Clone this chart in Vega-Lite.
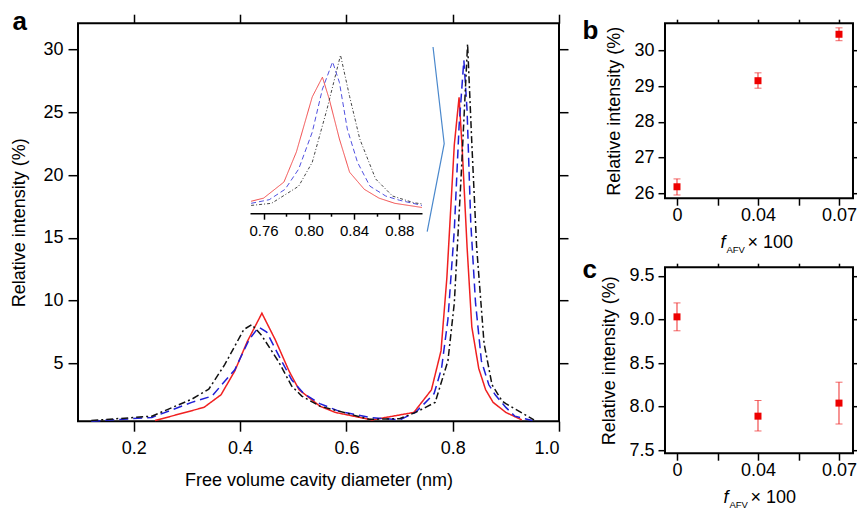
{
  "$schema": "https://vega.github.io/schema/vega-lite/v6.json",
  "padding": {"left": 9, "top": 7.2, "right": 0, "bottom": 0},
  "datasets": {
    "curves": [
      {"s":"r","d":0.24,"v":0.45},{"s":"r","d":0.332,"v":1.5},{"s":"r","d":0.364,"v":2.5},{"s":"r","d":0.39,"v":4.4},{"s":"r","d":0.413,"v":6.7},{"s":"r","d":0.441,"v":9.0},{"s":"r","d":0.466,"v":6.9},{"s":"r","d":0.492,"v":4.4},{"s":"r","d":0.511,"v":2.9},{"s":"r","d":0.55,"v":1.6},{"s":"r","d":0.579,"v":1.1},{"s":"r","d":0.648,"v":0.5},{"s":"r","d":0.727,"v":1.1},{"s":"r","d":0.749,"v":2.3},{"s":"r","d":0.76,"v":2.9},{"s":"r","d":0.778,"v":6.0},{"s":"r","d":0.789,"v":11.8},{"s":"r","d":0.803,"v":22.4},{"s":"r","d":0.812,"v":26.2},{"s":"r","d":0.818,"v":22.0},{"s":"r","d":0.827,"v":14.3},{"s":"r","d":0.836,"v":7.9},{"s":"r","d":0.849,"v":4.6},{"s":"r","d":0.862,"v":2.9},{"s":"r","d":0.876,"v":1.9},{"s":"r","d":0.9,"v":1.1},{"s":"r","d":0.93,"v":0.5},
      {"s":"b","d":0.12,"v":0.4},{"s":"b","d":0.234,"v":0.7},{"s":"b","d":0.309,"v":1.9},{"s":"b","d":0.347,"v":2.4},{"s":"b","d":0.39,"v":4.5},{"s":"b","d":0.417,"v":6.9},{"s":"b","d":0.435,"v":7.9},{"s":"b","d":0.45,"v":7.5},{"s":"b","d":0.473,"v":5.6},{"s":"b","d":0.497,"v":3.7},{"s":"b","d":0.52,"v":2.6},{"s":"b","d":0.55,"v":1.8},{"s":"b","d":0.586,"v":1.2},{"s":"b","d":0.643,"v":0.7},{"s":"b","d":0.7,"v":0.5},{"s":"b","d":0.73,"v":1.1},{"s":"b","d":0.749,"v":1.9},{"s":"b","d":0.765,"v":2.6},{"s":"b","d":0.779,"v":4.6},{"s":"b","d":0.791,"v":8.5},{"s":"b","d":0.803,"v":15.6},{"s":"b","d":0.812,"v":23.9},{"s":"b","d":0.821,"v":29.15},{"s":"b","d":0.827,"v":25.2},{"s":"b","d":0.834,"v":16.2},{"s":"b","d":0.843,"v":9.8},{"s":"b","d":0.854,"v":5.2},{"s":"b","d":0.868,"v":3.3},{"s":"b","d":0.88,"v":2.5},{"s":"b","d":0.9,"v":1.5},{"s":"b","d":0.917,"v":0.8},{"s":"b","d":0.95,"v":0.45},
      {"s":"k","d":0.12,"v":0.45},{"s":"k","d":0.234,"v":0.8},{"s":"k","d":0.309,"v":2.15},{"s":"k","d":0.341,"v":2.95},{"s":"k","d":0.371,"v":4.9},{"s":"k","d":0.407,"v":7.7},{"s":"k","d":0.422,"v":8.1},{"s":"k","d":0.441,"v":7.2},{"s":"k","d":0.473,"v":5.1},{"s":"k","d":0.497,"v":3.2},{"s":"k","d":0.516,"v":2.4},{"s":"k","d":0.55,"v":1.6},{"s":"k","d":0.586,"v":1.2},{"s":"k","d":0.643,"v":0.55},{"s":"k","d":0.7,"v":0.6},{"s":"k","d":0.73,"v":1.1},{"s":"k","d":0.749,"v":1.5},{"s":"k","d":0.767,"v":1.9},{"s":"k","d":0.791,"v":5.2},{"s":"k","d":0.803,"v":9.8},{"s":"k","d":0.816,"v":20.0},{"s":"k","d":0.828,"v":30.45},{"s":"k","d":0.836,"v":22.5},{"s":"k","d":0.845,"v":14.3},{"s":"k","d":0.859,"v":6.6},{"s":"k","d":0.874,"v":3.3},{"s":"k","d":0.893,"v":2.0},{"s":"k","d":0.9,"v":1.8},{"s":"k","d":0.953,"v":0.5}
    ],
    "pb": [
      {"f":"0","m":26.18,"lo":25.95,"hi":26.40},
      {"f":"0.04","m":29.15,"lo":28.94,"hi":29.37},
      {"f":"0.07","m":30.45,"lo":30.27,"hi":30.63}
    ],
    "pc": [
      {"f":"0","m":9.03,"lo":8.87,"hi":9.19},
      {"f":"0.04","m":7.89,"lo":7.72,"hi":8.07},
      {"f":"0.07","m":8.04,"lo":7.80,"hi":8.28}
    ],
    "bracket": [
      {"bx":0.763,"by":30.2,"k":1},{"bx":0.784,"by":22.5,"k":2},{"bx":0.752,"by":15.5,"k":3}
    ]
  },
  "spacing": 11,
  "hconcat": [
    {
      "width": 481, "height": 398,
      "layer": [
        {
          "data": {"name": "curves"},
          "mark": {"type": "line", "strokeWidth": 1.5},
          "encoding": {
            "x": {"field": "d", "type": "quantitative", "scale": {"domain": [0.095, 1.0], "nice": false, "zero": false},
                  "axis": {"orient": "bottom", "values": [0.2, 0.4, 0.6, 0.8, 1.0], "format": ".1f", "tickSize": 10, "labelPadding": 8, "title": "Free volume cavity diameter (nm)", "titlePadding": 14}},
            "y": {"field": "v", "type": "quantitative", "scale": {"domain": [0.4, 32.1], "nice": false, "zero": false},
                  "axis": {"orient": "left", "values": [5, 10, 15, 20, 25, 30], "tickSize": 10, "labelPadding": 5, "title": "Relative intensity (%)", "titlePadding": 14}},
            "color": {"field": "s", "type": "nominal", "scale": {"domain": ["r", "b", "k"], "range": ["#f02020", "#1f1fd6", "#111111"]}, "legend": null},
            "strokeDash": {"field": "s", "type": "nominal", "scale": {"domain": ["r", "b", "k"], "range": [[1, 0], [9, 5], [7, 3, 2, 3]]}, "legend": null}
          }
        },
        {
          "data": {"name": "curves"},
          "mark": {"type": "point", "opacity": 0},
          "encoding": {
            "x": {"field": "d", "type": "quantitative", "scale": {"domain": [0.095, 1.0], "nice": false, "zero": false},
                  "axis": {"orient": "top", "values": [0.2, 0.4, 0.6, 0.8, 1.0], "labels": false, "tickSize": 9,
                           "title": "a", "titleFontSize": 26, "titleFontWeight": "bold", "titleX": -66, "titleY": 6, "titleAlign": "left", "titleBaseline": "alphabetic"}},
            "y": {"field": "v", "type": "quantitative", "scale": {"domain": [0.4, 32.1], "nice": false, "zero": false},
                  "axis": {"orient": "right", "values": [5, 10, 15, 20, 25, 30], "labels": false, "tickSize": 9, "title": null}}
          }
        },
        {
          "data": {"name": "curves"},
          "transform": [{"filter": "datum.d >= 0.748 && datum.d <= 0.9005"}],
          "mark": {"type": "line", "strokeWidth": 1},
          "encoding": {
            "x": {"field": "d", "type": "quantitative", "scale": {"domain": [0.748, 0.9], "range": [172, 344], "nice": false, "zero": false},
                  "axis": {"orient": "bottom", "offset": -208, "domain": true, "domainColor": "black", "domainWidth": 1.5,
                           "values": [0.76, 0.78, 0.8, 0.82, 0.84, 0.86, 0.88],
                           "labelExpr": "round(datum.value*100) % 4 == 0 ? format(datum.value, '.2f') : ''",
                           "tickSize": {"condition": {"test": "round(datum.value*100) % 4 == 0", "value": 6}, "value": 3},
                           "labelFontSize": 15, "labelPadding": 4, "title": null}},
            "y": {"field": "v", "type": "quantitative", "scale": {"domain": [0, 36.6], "range": [190, 0], "nice": false, "zero": false}, "axis": null},
            "color": {"field": "s", "type": "nominal", "scale": {"domain": ["r", "b", "k"], "range": ["#f04848", "#5050e0", "#444444"]}, "legend": null},
            "strokeDash": {"field": "s", "type": "nominal", "scale": {"domain": ["r", "b", "k"], "range": [[1, 0], [5, 3], [3, 2, 1, 2]]}, "legend": null}
          }
        },
        {
          "data": {"name": "bracket"},
          "mark": {"type": "line", "color": "#4a88cc", "strokeWidth": 1.2},
          "encoding": {
            "x": {"field": "bx", "type": "quantitative", "scale": {"domain": [0.095, 1.0], "nice": false, "zero": false}, "axis": null},
            "y": {"field": "by", "type": "quantitative", "scale": {"domain": [0.4, 32.1], "nice": false, "zero": false}, "axis": null},
            "order": {"field": "k"}
          }
        }
      ],
      "resolve": {"scale": {"x": "independent", "y": "independent", "color": "independent", "strokeDash": "independent"}, "axis": {"x": "independent", "y": "independent"}}
    },
    {
      "spacing": 0,
      "vconcat": [
        {
          "width": 188, "height": 175,
          "data": {"name": "pb"},
          "layer": [
            {
              "mark": {"type": "errorbar", "color": "#ee2a2a", "ticks": {"size": 7, "thickness": 1}, "rule": {"strokeWidth": 1}},
              "encoding": {
                "x": {"field": "f", "type": "ordinal", "scale": {"type": "point", "domain": ["0", "s1", "0.04", "s2", "0.07"], "range": [12, 174], "padding": 0},
                      "axis": {"orient": "bottom", "labelExpr": "datum.value == 's1' || datum.value == 's2' ? '' : datum.value", "labelAngle": 0, "tickSize": 7, "labelPadding": 1,
                               "title": "f", "titleFontStyle": "italic", "titleX": 55, "titleY": 49, "titleAlign": "left", "titleBaseline": "alphabetic"}},
                "y": {"field": "lo", "type": "quantitative", "scale": {"domain": [25.86, 30.76], "nice": false, "zero": false},
                      "axis": {"orient": "left", "values": [26, 27, 28, 29, 30], "tickSize": 7, "labelPadding": 4, "title": "Relative intensity (%)", "titlePadding": 10}},
                "y2": {"field": "hi"}
              }
            },
            {
              "mark": {"type": "square", "size": 49, "color": "#ee0000", "opacity": 1},
              "encoding": {
                "x": {"field": "f", "type": "ordinal", "scale": {"type": "point", "domain": ["0", "s1", "0.04", "s2", "0.07"], "range": [12, 174], "padding": 0},
                      "axis": {"orient": "bottom", "labels": false, "ticks": false, "title": "AFV", "titleFontSize": 9.5, "titleX": 61, "titleY": 54, "titleAlign": "left", "titleBaseline": "alphabetic"}},
                "y": {"field": "m", "type": "quantitative", "scale": {"domain": [25.86, 30.76], "nice": false, "zero": false}, "axis": null}
              }
            },
            {
              "mark": {"type": "square", "opacity": 0},
              "encoding": {
                "x": {"field": "f", "type": "ordinal", "scale": {"type": "point", "domain": ["0", "s1", "0.04", "s2", "0.07"], "range": [12, 174], "padding": 0},
                      "axis": {"orient": "top", "labels": false, "tickSize": 4,
                               "title": "b", "titleFontSize": 26, "titleFontWeight": "bold", "titleX": -83, "titleY": 15, "titleAlign": "left", "titleBaseline": "alphabetic"}},
                "y": {"field": "m", "type": "quantitative", "scale": {"domain": [25.86, 30.76], "nice": false, "zero": false},
                      "axis": {"orient": "right", "values": [26, 27, 28, 29, 30], "labels": false, "tickSize": 4, "title": null}}
              }
            },
            {
              "mark": {"type": "square", "opacity": 0},
              "encoding": {
                "x": {"field": "f", "type": "ordinal", "scale": {"type": "point", "domain": ["0", "s1", "0.04", "s2", "0.07"], "range": [12, 174], "padding": 0},
                      "axis": {"orient": "bottom", "labels": false, "ticks": false, "title": "× 100", "titleX": 82, "titleY": 49, "titleAlign": "left", "titleBaseline": "alphabetic"}},
                "y": {"field": "m", "type": "quantitative", "scale": {"domain": [25.86, 30.76], "nice": false, "zero": false}, "axis": null}
              }
            }
          ],
          "resolve": {"axis": {"x": "independent", "y": "independent"}}
        },
        {
          "width": 188, "height": 186,
          "data": {"name": "pc"},
          "layer": [
            {
              "mark": {"type": "errorbar", "color": "#ee2a2a", "ticks": {"size": 7, "thickness": 1}, "rule": {"strokeWidth": 1}},
              "encoding": {
                "x": {"field": "f", "type": "ordinal", "scale": {"type": "point", "domain": ["0", "s1", "0.04", "s2", "0.07"], "range": [12, 174], "padding": 0},
                      "axis": {"orient": "bottom", "labelExpr": "datum.value == 's1' || datum.value == 's2' ? '' : datum.value", "labelAngle": 0, "tickSize": 7, "labelPadding": 1,
                               "title": "f", "titleFontStyle": "italic", "titleX": 58, "titleY": 49, "titleAlign": "left", "titleBaseline": "alphabetic"}},
                "y": {"field": "lo", "type": "quantitative", "scale": {"domain": [7.465, 9.6], "nice": false, "zero": false},
                      "axis": {"orient": "left", "values": [7.5, 8.0, 8.5, 9.0, 9.5], "format": ".1f", "tickSize": 7, "labelPadding": 4, "title": "Relative intensity (%)", "titlePadding": 10}},
                "y2": {"field": "hi"}
              }
            },
            {
              "mark": {"type": "square", "size": 49, "color": "#ee0000", "opacity": 1},
              "encoding": {
                "x": {"field": "f", "type": "ordinal", "scale": {"type": "point", "domain": ["0", "s1", "0.04", "s2", "0.07"], "range": [12, 174], "padding": 0},
                      "axis": {"orient": "bottom", "labels": false, "ticks": false, "title": "AFV", "titleFontSize": 9.5, "titleX": 64, "titleY": 54, "titleAlign": "left", "titleBaseline": "alphabetic"}},
                "y": {"field": "m", "type": "quantitative", "scale": {"domain": [7.465, 9.6], "nice": false, "zero": false}, "axis": null}
              }
            },
            {
              "mark": {"type": "square", "opacity": 0},
              "encoding": {
                "x": {"field": "f", "type": "ordinal", "scale": {"type": "point", "domain": ["0", "s1", "0.04", "s2", "0.07"], "range": [12, 174], "padding": 0},
                      "axis": {"orient": "top", "labels": false, "tickSize": 4,
                               "title": "c", "titleFontSize": 26, "titleFontWeight": "bold", "titleX": -83, "titleY": 10, "titleAlign": "left", "titleBaseline": "alphabetic"}},
                "y": {"field": "m", "type": "quantitative", "scale": {"domain": [7.465, 9.6], "nice": false, "zero": false},
                      "axis": {"orient": "right", "values": [7.5, 8.0, 8.5, 9.0, 9.5], "labels": false, "tickSize": 4, "title": null}}
              }
            },
            {
              "mark": {"type": "square", "opacity": 0},
              "encoding": {
                "x": {"field": "f", "type": "ordinal", "scale": {"type": "point", "domain": ["0", "s1", "0.04", "s2", "0.07"], "range": [12, 174], "padding": 0},
                      "axis": {"orient": "bottom", "labels": false, "ticks": false, "title": "× 100", "titleX": 85, "titleY": 49, "titleAlign": "left", "titleBaseline": "alphabetic"}},
                "y": {"field": "m", "type": "quantitative", "scale": {"domain": [7.465, 9.6], "nice": false, "zero": false}, "axis": null}
              }
            }
          ],
          "resolve": {"axis": {"x": "independent", "y": "independent"}}
        }
      ]
    }
  ],
  "config": {
    "font": "Liberation Sans",
    "view": {"stroke": "black", "strokeWidth": 2},
    "axis": {"domain": false, "grid": false, "labelFont": "Liberation Sans", "titleFont": "Liberation Sans", "labelFontSize": 18, "titleFontSize": 18, "titleFontWeight": "normal", "labelColor": "black", "titleColor": "black", "tickColor": "black", "tickWidth": 1.5}
  }
}
